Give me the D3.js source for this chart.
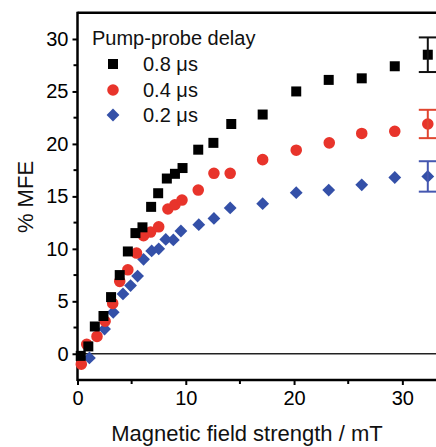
<!DOCTYPE html>
<html>
<head>
<meta charset="utf-8">
<script src="https://cdn.jsdelivr.net/npm/d3@7/dist/d3.min.js"></script>
<style>
  html, body { margin: 0; padding: 0; background: #fff; }
  svg { display: block; font-family: "Liberation Sans", Arial, sans-serif; }
</style>
</head>
<body>
<svg id="chart" width="436" height="447"></svg>
<script>
// ---- data ----
const seriesNames = ["0.8 \u03bcs", "0.4 \u03bcs", "0.2 \u03bcs"];

const field08 = [0.3, 1.0, 1.6, 2.4, 3.1, 3.9, 4.65, 5.35, 6.0, 6.8, 7.45, 8.25, 9.0, 9.7, 11.15, 12.55, 14.2, 17.1, 20.2, 23.2, 26.25, 29.3];
const mfe08   = [-0.2, 0.7, 2.6, 3.6, 5.4, 7.5, 9.75, 11.5, 12.05, 14.0, 15.3, 16.7, 17.15, 17.7, 19.45, 20.1, 21.9, 22.8, 25.0, 26.1, 26.25, 27.4];

const field04 = [0.35, 0.85, 1.8, 2.55, 3.25, 3.9, 4.65, 5.45, 6.1, 6.75, 7.5, 8.35, 9.0, 9.65, 11.15, 12.6, 14.1, 17.1, 20.2, 23.25, 26.25, 29.3];
const mfe04   = [-1.0, 0.9, 1.65, 3.1, 4.8, 6.9, 8.0, 9.6, 11.25, 11.6, 12.1, 13.8, 14.2, 14.65, 15.6, 17.2, 17.2, 18.5, 19.4, 20.1, 21.0, 21.2];

const field02 = [1.1, 2.5, 3.3, 4.2, 4.9, 5.55, 6.1, 6.85, 7.5, 8.15, 8.85, 9.55, 11.2, 12.6, 14.1, 17.1, 20.2, 23.2, 26.25, 29.3];
const mfe02   = [-0.4, 2.35, 3.95, 5.7, 6.5, 7.4, 9.0, 9.8, 10.0, 10.9, 10.85, 11.7, 12.3, 12.9, 13.9, 14.3, 15.35, 15.6, 16.1, 16.8];

// last point of each series with its error bar
const lastField = [32.35, 32.35, 32.35];
const lastMfe   = [28.5, 21.9, 16.9];
const lastErr   = [1.65, 1.35, 1.45];

const xTicks = [0, 10, 20, 30];
const xMinor = [5, 15, 25];
const yTicks = [0, 5, 10, 15, 20, 25, 30];
const yMinor = [2.5, 7.5, 12.5, 17.5, 22.5, 27.5];

const colors = ["#000000", "#e8342b", "#3450a8"];
const barColors = ["#111111", "#e0452f", "#4557b0"];

// ---- layout ----
const svg = d3.select("#chart");
const x = d3.scaleLinear().domain([0, 33.2]).range([77.5, 437]);
const y = d3.scaleLinear().domain([-2.5, 32.5]).range([380, 12.75]);

// axes
const xAxis = d3.axisBottom(x).tickValues(xTicks).tickSize(5).tickPadding(6).tickFormat(d3.format("d"));
const yAxis = d3.axisLeft(y).tickValues(yTicks).tickSize(5).tickPadding(4).tickFormat(d3.format("d"));

const gx = svg.append("g").attr("transform", "translate(0,380)").call(xAxis);
const gy = svg.append("g").attr("transform", "translate(77.5,0)").call(yAxis);
[gx, gy].forEach(g => {
  g.select(".domain").remove();
  g.selectAll(".tick line").attr("stroke", "#000").attr("stroke-width", 2);
  g.selectAll(".tick text").attr("font-size", 20).attr("fill", "#000")
    .attr("font-family", "'Liberation Sans', Arial, sans-serif");
});

// minor ticks
svg.append("g").selectAll("line").data(xMinor).join("line")
  .attr("x1", d => x(d)).attr("x2", d => x(d)).attr("y1", 380).attr("y2", 384)
  .attr("stroke", "#000").attr("stroke-width", 2);
svg.append("g").selectAll("line").data(yMinor).join("line")
  .attr("x1", 77.5).attr("x2", 73.5).attr("y1", d => y(d)).attr("y2", d => y(d))
  .attr("stroke", "#000").attr("stroke-width", 2);

// frame lines
svg.append("line").attr("x1", x(0)).attr("x2", 436).attr("y1", y(32.5)).attr("y2", y(32.5))
  .attr("stroke", "#000").attr("stroke-width", 2.5);
svg.append("line").attr("x1", x(0)).attr("x2", x(0)).attr("y1", y(32.5) - 1).attr("y2", y(-2.5) + 1)
  .attr("stroke", "#000").attr("stroke-width", 2.5);
svg.append("line").attr("x1", x(0)).attr("x2", 436).attr("y1", y(-2.5)).attr("y2", y(-2.5))
  .attr("stroke", "#000").attr("stroke-width", 2.5);
// zero line
svg.append("line").attr("x1", x(0)).attr("x2", 436).attr("y1", y(0)).attr("y2", y(0))
  .attr("stroke", "#222").attr("stroke-width", 1.6);

// axis titles
svg.append("text").attr("x", 247).attr("y", 441).attr("text-anchor", "middle")
  .attr("font-size", 22).attr("fill", "#111").text("Magnetic field strength / mT");
svg.append("text").attr("transform", "translate(33,197) rotate(-90)").attr("text-anchor", "middle")
  .attr("font-size", 22).attr("fill", "#111").text("% MFE");

// markers
const sym = [d3.symbol().type(d3.symbolSquare).size(100),
             d3.symbol().type(d3.symbolCircle).size(105),
             d3.symbol().type(d3.symbolSquare).size(82)];
const rot = [0, 0, 45];

const sets = [
  {xs: field08, ys: mfe08},
  {xs: field04, ys: mfe04},
  {xs: field02, ys: mfe02}
];

// draw blue first, then red, then black on top
[2, 1, 0].forEach(i => {
  const s = sets[i];
  const pts = s.xs.map((v, k) => [v, s.ys[k]]);
  pts.push([lastField[i], lastMfe[i]]);
  svg.append("g").selectAll("path").data(pts).join("path")
    .attr("d", sym[i])
    .attr("transform", d => `translate(${x(d[0])},${y(d[1])}) rotate(${rot[i]})`)
    .attr("fill", colors[i]);
  // error bar on last point
  const ex = x(lastField[i]);
  const g = svg.append("g").attr("stroke", barColors[i]).attr("stroke-width", 2);
  g.append("line").attr("x1", ex).attr("x2", ex)
    .attr("y1", y(lastMfe[i] + lastErr[i])).attr("y2", y(lastMfe[i] - lastErr[i]));
  [lastMfe[i] + lastErr[i], lastMfe[i] - lastErr[i]].forEach(v => {
    g.append("line").attr("x1", ex - 9).attr("x2", ex + 9).attr("y1", y(v)).attr("y2", y(v));
  });
});

// legend
svg.append("text").attr("x", 92).attr("y", 45).attr("font-size", 20).attr("fill", "#111")
  .text("Pump-probe delay");
const legY = [64, 90, 115];
seriesNames.forEach((name, i) => {
  svg.append("path").attr("d", sym[i])
    .attr("transform", `translate(113,${legY[i]}) rotate(${rot[i]})`)
    .attr("fill", colors[i]);
  svg.append("text").attr("x", 143).attr("y", legY[i] + 7).attr("font-size", 20).attr("fill", "#111")
    .text(name);
});
</script>
</body>
</html>
